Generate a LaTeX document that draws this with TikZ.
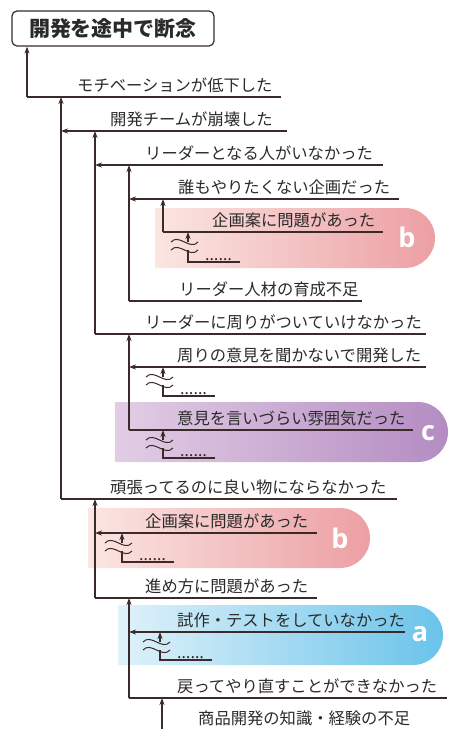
\documentclass[tikz,border=0pt]{standalone}
\usepackage{fontspec}
\newfontfamily\jp{Noto Sans CJK JP}
\newfontfamily\tagfont{Open Sans}
\usetikzlibrary{arrows.meta}
\definecolor{ink}{HTML}{3B2A2A}
\definecolor{txtc}{HTML}{2A2A2A}
\definecolor{bbL}{HTML}{FBE6E2}
\definecolor{bbR}{HTML}{EC9FA3}
\definecolor{bcL}{HTML}{E2CDE5}
\definecolor{bcR}{HTML}{B48CC2}
\definecolor{baL}{HTML}{E0F2FA}
\definecolor{baR}{HTML}{6AC3EA}
\tikzset{
  ln/.style={draw=ink,line width=1.2pt},
  arr/.style={ln,-{Stealth[length=7pt,width=5pt]}},
  wave/.style={draw=ink,line width=1pt},
  lbl/.style={anchor=base west,inner sep=0pt,text=txtc,font=\jp\fontsize{16.3}{18}\selectfont},
  dots/.style={anchor=base west,inner sep=0pt,text=ink,font=\tagfont\fontsize{17}{17}\selectfont},
  tag/.style={text=white,font=\tagfont\bfseries\fontsize{27}{27}\selectfont}
}
\begin{document}
\begin{tikzpicture}[x=1pt,y=-1pt]
\useasboundingbox (0,0) rectangle (449,729);
\shade[left color=bbL,right color=bbR](155,208)--(405,208) arc(-90:90:30)--(155,268)--cycle;
\shade[left color=bcL,right color=bcR](115,402)--(418,402) arc(-90:90:30)--(115,462)--cycle;
\shade[left color=bbL,right color=bbR](88,508)--(340,508) arc(-90:90:30)--(88,568)--cycle;
\shade[left color=baL,right color=baR](118,605)--(413,605) arc(-90:90:30)--(118,665)--cycle;
\node[tag] (tagb) at (407,237){b};
\node[tag] (tagc) at (428,433){c};
\node[tag] (tagbb) at (340,538){b};
\node[tag] (taga) at (420,634){a};
\node[draw=ink,line width=1.2pt,rounded corners=5pt,minimum width=202pt,minimum height=35pt,
  text=txtc,font=\jp\bfseries\fontsize{21}{21}\selectfont] (title) at (113,28.5){開発を途中で断念};
\foreach \n/\xl/\xr/\y/\xt/\txt in {
  1/27/281/97/77/モチベーションが低下した,
  2/61/287/131/110/開発チームが崩壊した,
  3/95/383/165/145/リーダーとなる人がいなかった,
  4/129/399/199/178/誰もやりたくない企画だった,
  5/163/383/232/212/企画案に問題があった,
  6/129/362/301/179/リーダー人材の育成不足,
  7/95/426/334/145/リーダーに周りがついていけなかった,
  8/129/426/367/177/周りの意見を聞かないで開発した,
  9/129/413/430/177/意見を言いづらい雰囲気だった,
  10/61/397/499/110/頑張ってるのに良い物にならなかった,
  11/95/317/533/145/企画案に問題があった,
  12/95/317/598/145/進め方に問題があった,
  13/129/405/632/177/試作・テストをしていなかった,
  14/129/447/698/177/戻ってやり直すことができなかった}{
  \coordinate (L\n) at (\xl,\y);
  \coordinate (R\n) at (\xr,\y);
  \node[lbl] (t\n) at (\xt,\y-6){\txt};
}
\node[lbl] (t15) at (198,724){商品開発の知識・経験の不足};
\coordinate (v9) at (162,740);
\foreach \n in {1,5,6,7,9,10,12,14}
  \draw[ln](L\n)--(R\n);
\foreach \n in {2,3,4,8,11,13}
  \draw[arr](R\n)--(L\n);
\draw[arr](L1)--(L1|-title.south);
\draw[arr](L10)--(L10|-L1);
\draw[arr](L7)--(L7|-L2);
\draw[arr](L6)--(L6|-L3);
\draw[arr](L5)--(L5|-L4);
\draw[arr](L9)--(L9|-L7);
\draw[arr](L12)--(L12|-L10);
\draw[arr](L14)--(L14|-L12);
\draw[arr](v9)--(v9|-L14);
% omitted branches
\foreach \n/\x/\t/\b in {1/188/232/262,2/163/367/396,3/163/430/458,4/122/533/562,5/160/632/660}{
  \coordinate (o\n) at (\x,\b);
  \coordinate (p\n) at (\x+52,\b);
  \coordinate (q\n) at (\x,\t);
  \coordinate (u\n) at (\x,\t+10);
  \coordinate (w\n) at (\x,\t+18);
  \draw[ln](p\n)--(o\n)--(w\n);
  \draw[arr](u\n)--(q\n);
  \draw[wave]([xshift=-17pt]u\n) .. controls +(8,-9) and +(-8,9) .. ([xshift=10pt]u\n);
  \draw[wave]([xshift=-17pt]w\n) .. controls +(8,-9) and +(-8,9) .. ([xshift=10pt]w\n);
  \node[dots] (d\n) at (\x+17,\b-2){……};
}
\end{tikzpicture}
\end{document}
